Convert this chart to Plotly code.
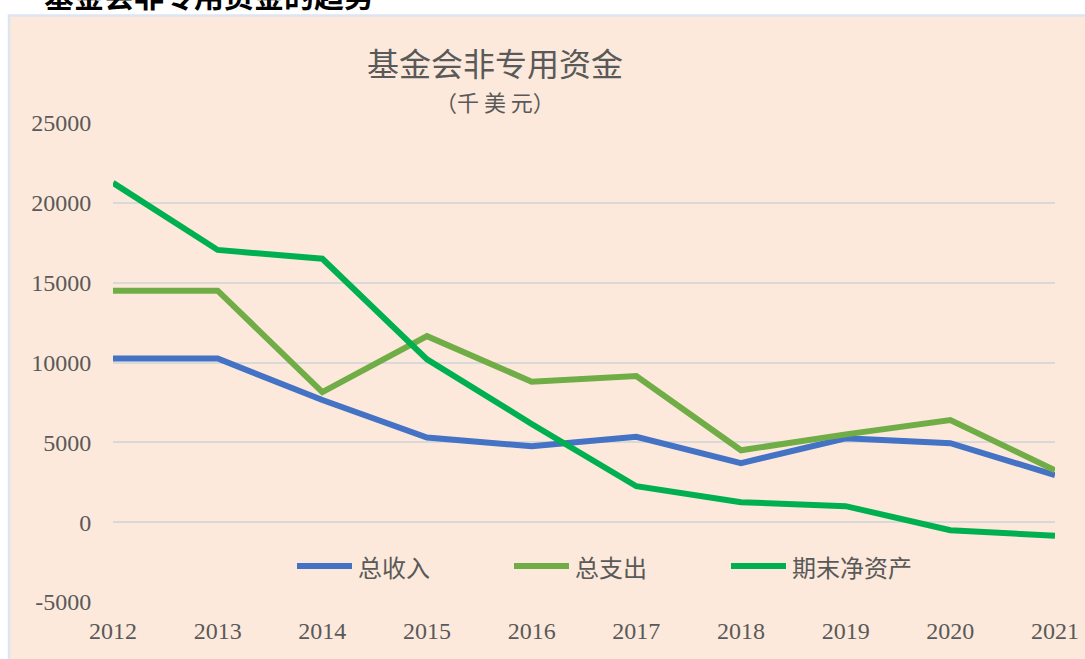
import plotly.graph_objects as go

# ---- data ----
years = [2012, 2013, 2014, 2015, 2016, 2017, 2018, 2019, 2020, 2021]
total_income = [10250, 10250, 7650, 5300, 4750, 5350, 3700, 5250, 4950, 2950]
total_expense = [14500, 14500, 8150, 11650, 8800, 9150, 4500, 5500, 6400, 3250]
net_assets = [21250, 17050, 16500, 10200, 6150, 2250, 1250, 1000, -500, -850]
series_names = ["总收入", "总支出", "期末净资产"]
y_ticks = [-5000, 0, 5000, 10000, 15000, 20000, 25000]
x_ticks = years

colors = ["#4472C4", "#70AD47", "#00B050"]

W, H = 1085, 659
L, R, T, B = 113, 30, 123, 57
PW = W - L - R
PH = H - T - B


def px_x(x):
    return (x - L) / PW


def px_y(y):
    return (H - B - y) / PH


fig = go.Figure()
for name, vals, c in zip(series_names, [total_income, total_expense, net_assets], colors):
    fig.add_trace(go.Scatter(
        x=years, y=vals, name=name, mode="lines",
        line=dict(color=c, width=6), showlegend=False,
    ))

# background frame
fig.add_shape(type="rect", xref="paper", yref="paper",
              x0=px_x(9), x1=px_x(1095), y0=px_y(670), y1=px_y(15.5),
              fillcolor="#FCE9DB", line=dict(color="#DCE5F1", width=2.5),
              layer="below")

# legend (drawn as layout decorations)
legend_x0 = [297, 514, 731]
legend_y = 566
for name, c, lx in zip(series_names, colors, legend_x0):
    fig.add_shape(type="line", xref="paper", yref="paper",
                  x0=px_x(lx), x1=px_x(lx + 55), y0=px_y(legend_y), y1=px_y(legend_y),
                  line=dict(color=c, width=6))
    fig.add_annotation(text=name, xref="paper", yref="paper",
                       x=px_x(lx + 59), y=px_y(legend_y), xanchor="left", yanchor="middle",
                       showarrow=False,
                       font=dict(family="Noto Sans CJK SC", size=24, color="#595959"))

# page heading (partly cut off at top)
fig.add_annotation(text="<b>基金会非专用资金的趋势</b>", xref="paper", yref="paper",
                   x=px_x(42), y=px_y(-6), xanchor="left", yanchor="middle",
                   showarrow=False,
                   font=dict(family="Noto Sans CJK SC", size=30, color="#000000"))

# chart title
fig.add_annotation(text="基金会非专用资金", xref="paper", yref="paper",
                   x=px_x(495), y=px_y(62), xanchor="center", yanchor="middle",
                   showarrow=False,
                   font=dict(family="Noto Sans CJK SC", size=32, color="#595959"))
fig.add_annotation(text="（千 美 元）", xref="paper", yref="paper",
                   x=px_x(495), y=px_y(101), xanchor="center", yanchor="middle",
                   showarrow=False,
                   font=dict(family="Noto Sans CJK SC", size=22, color="#595959"))

fig.update_layout(
    width=W, height=H, autosize=False,
    margin=dict(l=L, r=R, t=T, b=B, pad=0, autoexpand=False),
    paper_bgcolor="#FFFFFF",
    plot_bgcolor="rgba(0,0,0,0)",
    showlegend=False,
    xaxis=dict(
        range=[2012, 2021], tickvals=x_ticks, ticktext=[str(v) for v in x_ticks],
        showgrid=False, zeroline=False, showline=False, automargin=False,
        ticks="outside", ticklen=7, tickcolor="rgba(0,0,0,0)",
        tickfont=dict(family="Liberation Serif", size=24, color="#595959"),
    ),
    yaxis=dict(
        range=[-5000, 25000], tickvals=y_ticks, ticktext=[str(v) for v in y_ticks],
        showgrid=True, gridcolor="#D9D9D9", gridwidth=1.5,
        zeroline=False, showline=False, automargin=False,
        ticks="outside", ticklen=16, tickcolor="rgba(0,0,0,0)",
        tickfont=dict(family="Liberation Serif", size=24, color="#595959"),
    ),
)

post = ("document.body.style.margin='0';document.body.style.overflow='hidden';"
        "Plotly.relayout('{plot_id}', {width: 1085, height: 659});")
fig.write_html("out.html", config={"responsive": False, "displayModeBar": False},
               post_script=post)
